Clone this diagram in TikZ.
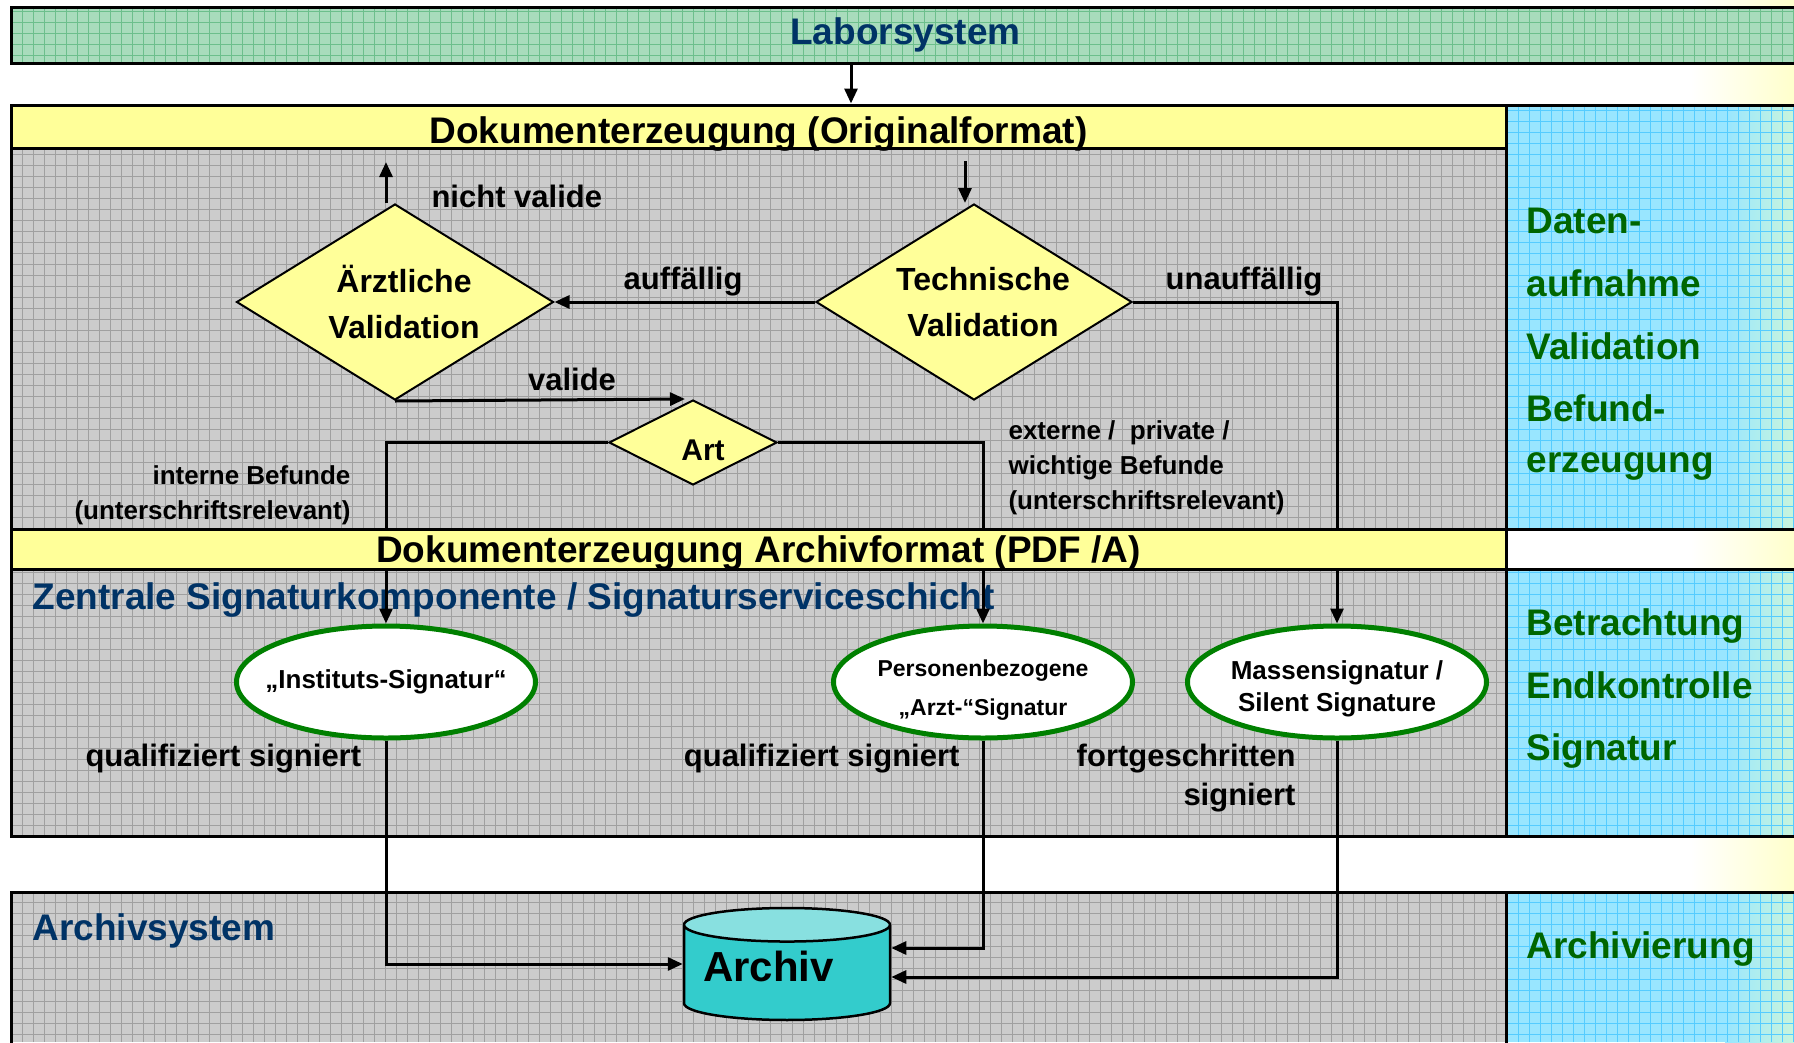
\documentclass[tikz,border=0pt]{standalone}
\usepackage{fontspec}
\setmainfont{Liberation Sans}
\usetikzlibrary{positioning,arrows.meta,shapes.geometric}
\definecolor{grau}{HTML}{CCCCCC}
\definecolor{graugrid}{HTML}{A0A0A0}
\definecolor{gelb}{HTML}{FFFF99}
\definecolor{gruen}{HTML}{A8DCBC}
\definecolor{gruengrid}{HTML}{6CBF8C}
\definecolor{hellblau}{HTML}{99E6FF}
\definecolor{blaurand}{HTML}{C8F5DC}
\definecolor{blaugrid}{HTML}{55CCFF}
\definecolor{dunkelblau}{HTML}{003366}
\definecolor{dunkelgruen}{HTML}{006600}
\definecolor{rahmengruen}{HTML}{008000}
\definecolor{tuerkis}{HTML}{33CCCC}
\definecolor{hellturkis}{HTML}{88E0E0}
\definecolor{randgelb}{HTML}{FFFFCC}
\tikzset{>={Triangle[length=15pt,width=13pt]}, % filled arrow heads
rahmen/.style={line width=3pt},
gridline/.style={line width=0.8pt},
con/.style={line width=3pt},
raute/.style={diamond, draw, line width=2pt, fill=gelb, inner xsep=-15pt, inner ysep=-5pt, aspect=1.6, align=center, font=\fontsize{32}{46}\selectfont\bfseries},
sig/.style={ellipse, draw=rahmengruen, line width=5pt, fill=white, inner xsep=-40pt, inner ysep=0pt, minimum width=299pt, minimum height=112pt, align=center, font=\fontsize{26}{36}\selectfont\bfseries},
lbl/.style={font=\fontsize{31}{39}\selectfont\bfseries},
klein/.style={font=\fontsize{26}{35}\selectfont\bfseries},
titel/.style={font=\fontsize{37}{44}\selectfont\bfseries},
spalte/.style={titel, text=dunkelgruen, anchor=base west},
}
\begin{document}
\begin{tikzpicture}[x=1pt,y=-1pt]
\useasboundingbox (0,0) rectangle (1794,1042);
% background
\fill[white] (0,0) rectangle (1794,1042);
\shade[left color=white, right color=randgelb] (1690,0) rectangle (1794,1042);

% Laborsystem
\fill[gruen] (11,7) rectangle (1800,63);
\draw[gruengrid, gridline, step=11pt] (11,63) grid (1794,7);

% gray areas
\fill[grau] (11,148) rectangle (1506,529);
\fill[grau] (11,569) rectangle (1506,836);
\fill[grau] (11,892) rectangle (1506,1042);
\draw[graugrid, gridline, step=11pt] (11,529) grid (1506,148);
\draw[graugrid, gridline, step=11pt] (11,836) grid (1506,569);
\draw[graugrid, gridline, step=11pt] (11,1042) grid (1506,892);

% blue column
\fill[hellblau] (1506,105) rectangle (1794,529);
\fill[hellblau] (1506,569) rectangle (1794,836);
\fill[hellblau] (1506,892) rectangle (1794,1042);
\shade[left color=hellblau, right color=blaurand] (1725,105) rectangle (1794,529);
\shade[left color=hellblau, right color=blaurand] (1725,569) rectangle (1794,836);
\shade[left color=hellblau, right color=blaurand] (1725,892) rectangle (1794,1042);
\draw[blaugrid, gridline, step=11pt] (1506,529) grid (1794,105);
\draw[blaugrid, gridline, step=11pt] (1506,836) grid (1794,569);
\draw[blaugrid, gridline, step=11pt] (1506,1042) grid (1794,892);

% frames and bars
\node[draw, rahmen, minimum width=1789pt, minimum height=56pt, inner sep=0pt, titel, text=dunkelblau] (labor) at (905.5,35) {Laborsystem};
\draw[rahmen] (11,105) rectangle (1800,836);
\draw[rahmen] (1506,105) -- (1506,836);
\draw[rahmen] (1506,529) -- (1800,529) (1506,569) -- (1800,569);
\draw[rahmen] (11,1050) -- (11,892) -- (1800,892) (1506,892) -- (1506,1050);
\node[draw, rahmen, fill=gelb, minimum width=1495pt, minimum height=43pt, inner sep=0pt, text height=34pt, text depth=0pt, titel] (dok) at (758.5,126.5) {Dokumenterzeugung (Originalformat)};

\node[titel, text=dunkelblau, anchor=west] (zsk) at (29,600) {Zentrale Signaturkomponente / Signaturserviceschicht};
\node[titel, text=dunkelblau, anchor=west] (asys) at (29,931) {Archivsystem};

\coordinate (lx) at (851,0);
\draw[con,->] (labor.south -| lx) -- (dok.north -| lx);

% validation
\node[raute, minimum width=317pt, minimum height=196pt] (av) at (395,302) {\hspace*{18pt}Ärztliche\\\hspace*{18pt}Validation};
\node[raute, minimum width=316pt, minimum height=196pt, right of=av, node distance=579pt] (tv) {\hspace*{18pt}Technische\\\hspace*{18pt}Validation};
\node[raute, minimum width=168pt, minimum height=85pt, font=\fontsize{30}{36}\selectfont\bfseries] (art) at (693,442.5) {\rule{0pt}{36pt}\hspace*{20pt}Art};

% signatures
\node[sig] (inst) at (386,682) {„Instituts-Signatur“};
\node[sig, right of=inst, node distance=597pt, font=\fontsize{23}{39}\selectfont\bfseries] (pers) {\rule{0pt}{33pt}Personenbezogene\\„Arzt-“Signatur};
\node[sig, right of=pers, node distance=354pt, font=\fontsize{26}{32}\selectfont\bfseries] (mass) {\rule{0pt}{33pt}Massensignatur /\\Silent Signature};

% archive
\node[cylinder, shape border rotate=90, aspect=0.2, draw, line width=2.5pt, cylinder uses custom fill, cylinder body fill=tuerkis, cylinder end fill=hellturkis, minimum width=206pt, minimum height=112pt, inner sep=0pt, text depth=14pt, font=\fontsize{42}{50}\selectfont\bfseries] (archiv) at (787,973) {Archiv\hspace*{37pt}};

\coordinate (nv) at (386,162);
\coordinate (tvin) at (965,161);
\draw[con,->] (nv |- av.north) -- (nv);
\draw[con,->] (tvin) -- (tvin |- tv.north);
\draw[con,->] (tv.west) -- (av.east);
\draw[con,->] (tv.east) -| (mass.north);
\draw[con,->] (av.south) -- ([xshift=-8pt]art.north);
\draw[con,->] (art.west) -| (inst.north);
\draw[con,->] (art.east) -| (pers.north);
\draw[con,->] (inst.south) |- ([yshift=9pt]archiv.west);
\draw[con,->] (pers.south) |- ([yshift=25pt]archiv.east);
\draw[con,->] (mass.south) |- ([yshift=-4pt]archiv.east);

% second bar covers the lines
\node[draw, rahmen, fill=gelb, minimum width=1495pt, minimum height=40pt, inner sep=0pt, text height=30pt, text depth=4pt, titel] (pdfa) at (758.5,549) {Dokumenterzeugung Archivformat (PDF /A)};

% labels
\node[lbl, anchor=west] (lnv) at (428,196) {nicht valide};
\node[lbl] (lauf) at (683,282) {auffällig};
\node[lbl] (lunauf) at (1244,282) {unauffällig};
\node[lbl] (lval) at (572,379) {valide};
\node[klein, align=right, anchor=east] (lint) at (354,495) {interne Befunde\\(unterschriftsrelevant)};
\node[klein, align=left, anchor=west] (lext) at (1005,468) {externe /\ \ private /\\wichtige Befunde\\(unterschriftsrelevant)};
\node[lbl, anchor=west] (lq1) at (82,759) {qualifiziert signiert};
\node[lbl, anchor=east] (lq2) at (963,759) {qualifiziert signiert};
\node[lbl, anchor=east, align=right] (lfort) at (1299,778) {fortgeschritten\\signiert};

% right column
\node[spalte] (s1) at (1523,233) {Daten-};
\node[spalte] (s2) at (1523,296) {aufnahme};
\node[spalte] (s3) at (1523,359) {Validation};
\node[spalte] (s4) at (1523,421) {Befund-};
\node[spalte] (s5) at (1523,472) {erzeugung};
\node[spalte] (s6) at (1523,635) {Betrachtung};
\node[spalte] (s7) at (1523,698) {Endkontrolle};
\node[spalte] (s8) at (1523,760) {Signatur};
\node[spalte] (s9) at (1523,958) {Archivierung};
\end{tikzpicture}
\end{document}
